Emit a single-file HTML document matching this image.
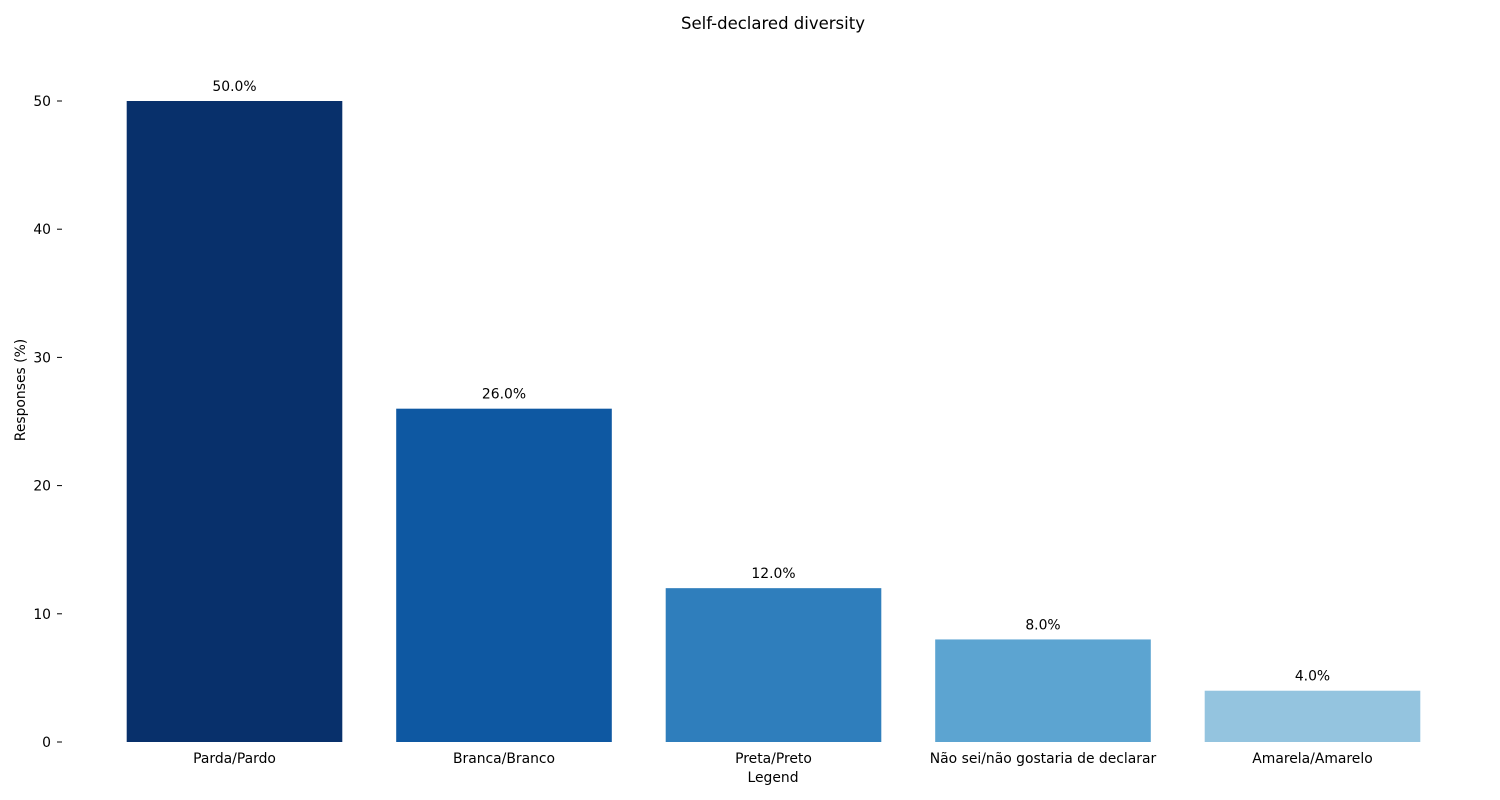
<!DOCTYPE html>
<html>
<head>
<meta charset="utf-8">
<style>
html,body{margin:0;padding:0;background:#fff;}
svg{display:block;font-family:"DejaVu Sans","Liberation Sans",sans-serif;}
</style>
</head>
<body>
<svg id="chart" width="1500" height="800" viewBox="0 0 1500 800">
  <text x="773" y="29" text-anchor="middle" font-size="16.5" fill="#000">Self-declared diversity</text>
  <g id="yaxis"></g>
  <g id="bars"></g>
  <g id="xaxis"></g>
  <text x="773" y="782" text-anchor="middle" font-size="13.9" fill="#000">Legend</text>
  <text transform="translate(25,390) rotate(-90)" text-anchor="middle" font-size="13.9" fill="#000">Responses (%)</text>
</svg>
<script>
const categories = ["Parda/Pardo","Branca/Branco","Preta/Preto","Não sei/não gostaria de declarar","Amarela/Amarelo"];
const values = [50,26,12,8,4];
const valueLabels = ["50.0%","26.0%","12.0%","8.0%","4.0%"];
const yTicks = [0,10,20,30,40,50];
const colors = ["#08306b","#0e58a2","#2f7ebc","#5ca4d1","#94c4df"];

const NS = "http://www.w3.org/2000/svg";
const y0 = 742, pxPerUnit = (742-101)/50;
const yScale = v => y0 - v*pxPerUnit;
const step = 269.5, firstCenter = 234.5, barW = 215.6;
const xScale = i => firstCenter + i*step;

function mk(tag, attrs){const e=document.createElementNS(NS,tag);for(const k in attrs)e.setAttribute(k,attrs[k]);return e;}

const yaxis=document.getElementById('yaxis');
yTicks.forEach(t=>{
  const y=yScale(t);
  const l=mk('line',{x1:57,x2:62,y1:y,y2:y,stroke:'#000','stroke-width':1});
  
  
  yaxis.appendChild(l);
  const tx=mk('text',{x:51,y:y+5,'text-anchor':'end','font-size':13.9,fill:'#000'});
  tx.textContent=String(t);
  
  
  yaxis.appendChild(tx);
});

const bars=document.getElementById('bars');
const xaxis=document.getElementById('xaxis');
categories.forEach((c,i)=>{
  const cx=xScale(i), top=yScale(values[i]);
  const r=mk('rect',{x:cx-barW/2,y:top,width:barW,height:y0-top,fill:colors[i%colors.length]});
  
  
  bars.appendChild(r);
  const vl=mk('text',{x:cx,y:top-10,'text-anchor':'middle','font-size':13.9,fill:'#000'});
  vl.textContent=valueLabels[i];
  
  
  bars.appendChild(vl);
  const xl=mk('text',{x:cx,y:763,'text-anchor':'middle','font-size':13.9,fill:'#000'});
  xl.textContent=c;
  
  
  xaxis.appendChild(xl);
});
</script>
</body>
</html>
